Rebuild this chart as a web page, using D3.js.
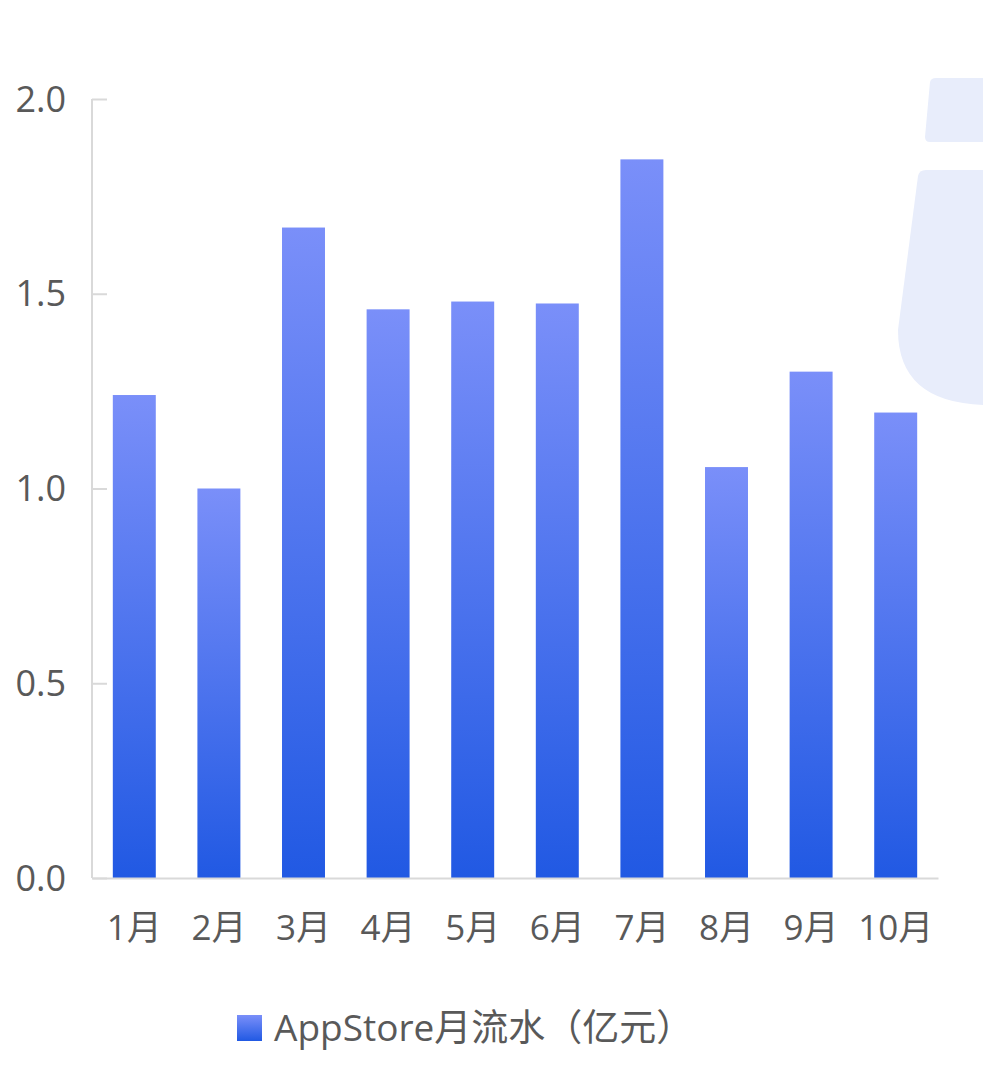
<!DOCTYPE html>
<html>
<head>
<meta charset="utf-8">
<script src="https://cdn.jsdelivr.net/npm/d3@7"></script>
<style>
  body { margin: 0; background: #fff; }
  svg text { font-family: "Open Sans", "Noto Sans CJK SC", sans-serif; fill: #595959; }
</style>
</head>
<body>
<svg width="983" height="1079"></svg>
<script>
// data
var months = ['1月', '2月', '3月', '4月', '5月', '6月', '7月', '8月', '9月', '10月'];
var revenue = [1.24, 1.0, 1.67, 1.46, 1.48, 1.475, 1.845, 1.055, 1.30, 1.195];
var yTicks = [0, 0.5, 1.0, 1.5, 2.0];
var seriesName = 'AppStore月流水（亿元）';

var svg = d3.select('svg');
var margin = {top: 99, left: 92, right: 45, bottom: 201};
var width = 983 - margin.left - margin.right,
    height = 1079 - margin.top - margin.bottom;

// gradient used for bars and legend swatch
var defs = svg.append('defs');
var grad = defs.append('linearGradient')
  .attr('id', 'barGrad')
  .attr('x1', 0).attr('y1', 0).attr('x2', 0).attr('y2', 1);
grad.append('stop').attr('offset', '0%').attr('stop-color', '#7a8ff9');
grad.append('stop').attr('offset', '100%').attr('stop-color', '#2159e3');

// watermark "i" at right edge
var wm = svg.append('g').attr('fill', '#e8edfb');
wm.append('path')
  .attr('d', 'M930,82 Q931,78 936,78 L990,78 L990,142 L930,142 Q925,142 925,137 Z');
wm.append('path')
  .attr('d', 'M918,176 Q919,170 926,170 L990,170 L990,405 Q898,405 898,330 Z');

var g = svg.append('g')
  .attr('transform', 'translate(' + margin.left + ',' + margin.top + ')');

var x = d3.scaleBand()
  .domain(months)
  .range([0, width])
  .paddingInner(0.492)
  .paddingOuter(0.246);

var y = d3.scaleLinear()
  .domain([0, 2])
  .range([height, 0]);

// y axis: ticks pointing inward
var yAxis = g.append('g')
  .call(d3.axisRight(y).tickValues(yTicks).tickSize(15).tickFormat(''));
yAxis.selectAll('line, path').attr('stroke', '#d9d9d9').attr('stroke-width', 2);
yAxis.select('.domain').attr('d', 'M0,' + height + 'V0');

g.selectAll('.ylabel')
  .data(yTicks)
  .enter().append('text')
  .attr('class', 'ylabel')
  .attr('x', -26)
  .attr('y', function(d) { return y(d); })
  .attr('dy', '0.35em')
  .attr('text-anchor', 'end')
  .attr('font-size', 36)
  .text(function(d) { return d3.format('.1f')(d); });

// bars
g.selectAll('.bar')
  .data(revenue)
  .enter().append('rect')
  .attr('class', 'bar')
  .attr('x', function(d, i) { return x(months[i]); })
  .attr('y', function(d) { return y(d); })
  .attr('width', x.bandwidth())
  .attr('height', function(d) { return height - y(d); })
  .attr('fill', 'url(#barGrad)');

// x axis
var xAxis = g.append('g')
  .attr('transform', 'translate(0,' + height + ')')
  .call(d3.axisBottom(x).tickSize(0).tickPadding(30));
xAxis.select('.domain').attr('stroke', '#d9d9d9').attr('stroke-width', 2);
xAxis.selectAll('text')
  .attr('font-size', 35)
  .attr('dy', '0.9em')
  .style('font-family', '"Open Sans", "Noto Sans CJK SC", sans-serif')
  .attr('fill', '#595959');

// legend
var legend = svg.append('g').attr('transform', 'translate(237,1015)');
legend.append('rect')
  .attr('width', 25).attr('height', 26)
  .attr('fill', 'url(#barGrad)');
legend.append('text')
  .attr('x', 37)
  .attr('y', 13)
  .attr('dy', '0.35em')
  .attr('font-size', 37)
  .text(seriesName);
</script>
</body>
</html>
